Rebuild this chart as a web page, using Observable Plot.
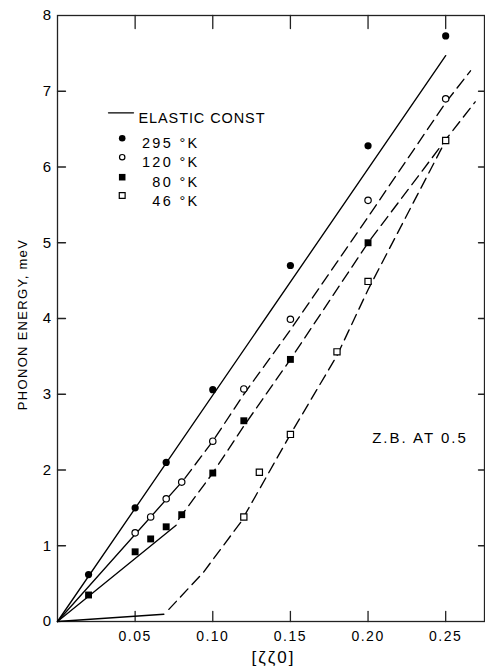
<!DOCTYPE html>
<html><head><meta charset="utf-8">
<script src="https://cdn.jsdelivr.net/npm/d3@7"></script>
<script src="https://cdn.jsdelivr.net/npm/@observablehq/plot@0.6"></script>
<style>
body{margin:0;background:#fff;}
svg text{letter-spacing:1.5px;}
</style></head><body><div id="chart"></div>
<script>
// measured points
const q295 = [0.02, 0.05, 0.07, 0.10, 0.15, 0.20, 0.25];
const e295 = [0.62, 1.50, 2.10, 3.06, 4.70, 6.28, 7.73];
const q120 = [0.05, 0.06, 0.07, 0.08, 0.10, 0.12, 0.15, 0.20, 0.25];
const e120 = [1.17, 1.38, 1.62, 1.84, 2.38, 3.07, 3.99, 5.56, 6.90];
const q80 = [0.02, 0.05, 0.06, 0.07, 0.08, 0.10, 0.12, 0.15, 0.20];
const e80 = [0.35, 0.92, 1.09, 1.25, 1.41, 1.96, 2.65, 3.46, 5.00];
const q46 = [0.12, 0.13, 0.15, 0.18, 0.20, 0.25];
const e46 = [1.38, 1.97, 2.47, 3.56, 4.49, 6.35];

// elastic constant (solid) lines
const qEl295 = [0, 0.25];    const eEl295 = [0, 7.47];
const qEl120 = [0, 0.08];    const eEl120 = [0, 1.84];
const qEl80  = [0, 0.0764];  const eEl80  = [0, 1.27];
const qEl46  = [0, 0.0685];  const eEl46  = [0, 0.096];

// dashed curves
const qD120 = [0.082, 0.10, 0.12, 0.15, 0.20, 0.25, 0.266];
const eD120 = [1.89, 2.38, 3.00, 3.85, 5.34, 6.85, 7.27];
const qD80  = [0.078, 0.10, 0.12, 0.15, 0.20, 0.25, 0.269];
const eD80  = [1.35, 1.96, 2.58, 3.46, 5.00, 6.36, 6.86];
const qD46  = [0.0717, 0.094, 0.118, 0.15, 0.18, 0.20, 0.25];
const eD46  = [0.16, 0.65, 1.31, 2.47, 3.51, 4.38, 6.35];

const xTicks = [0.05, 0.10, 0.15, 0.20, 0.25];
const yTicks = [1, 2, 3, 4, 5, 6, 7];
const yLabels = [0, 1, 2, 3, 4, 5, 6, 7, 8];

const legendNames = ["295 °K", "120 °K", "80 °K", "46 °K"];
const legendLine = "ELASTIC CONST";
const xTitle = "[ζζ0]";
const yTitle = "PHONON ENERGY, meV";
const note = "Z.B. AT 0.5";

const pts = (q, e) => q.map((v, i) => ({q: v, e: e[i]}));
const tick = {draw(ctx, l) { ctx.moveTo(0, 0); ctx.lineTo(0, -l); }};
const solid = {x: "q", y: "e", stroke: "black", strokeWidth: 1.35};
const dashed = {...solid, strokeDasharray: "11,6"};
const rowY = [122.7, 141.7, 161.7, 180];
const legendSymbols = [
  {symbol: "circle", fill: "black", r: 3.3},
  {symbol: "circle", fill: "white", stroke: "black", strokeWidth: 1.2, r: 2.7},
  {symbol: "square", fill: "black", r: 3.7},
  {symbol: "square", fill: "white", stroke: "black", strokeWidth: 1.2, r: 3.3}
];

const chart = Plot.plot({
  width: 485, height: 667,
  marginLeft: 57, marginRight: 1, marginTop: 15, marginBottom: 46,
  x: {domain: [0, 0.275]},
  y: {domain: [0, 8]},
  style: {fontFamily: "'Liberation Sans', Arial, sans-serif", background: "white", color: "black"},
  marks: [
    Plot.frame({stroke: "#222", strokeWidth: 1.3}),
    Plot.vector(xTicks, {x: d => d, y: () => 0, length: 10, rotate: 0, anchor: "start", shape: tick, stroke: "#222", strokeWidth: 1.3}),
    Plot.vector(xTicks, {x: d => d, y: () => 8, length: 13, rotate: 180, anchor: "start", shape: tick, stroke: "#222", strokeWidth: 1.3}),
    Plot.vector(yTicks, {x: () => 0, y: d => d, length: 8, rotate: 90, anchor: "start", shape: tick, stroke: "#222", strokeWidth: 1.3}),
    Plot.vector(yTicks, {x: () => 0.275, y: d => d, length: 6, rotate: 270, anchor: "start", shape: tick, stroke: "#222", strokeWidth: 1.3}),
    Plot.axisX(xTicks, {tickSize: 0, tickPadding: 10, tickFormat: d3.format(".2f"), fontSize: 14, label: null}),
    Plot.axisY(yLabels, {tickSize: 0, tickPadding: 5, tickFormat: d3.format("d"), fontSize: 15, label: null}),
    Plot.line(pts(qEl295, eEl295), solid),
    Plot.line(pts(qEl120, eEl120), solid),
    Plot.line(pts(qEl80, eEl80), solid),
    Plot.line(pts(qEl46, eEl46), solid),
    Plot.line(pts(qD120, eD120), dashed),
    Plot.line(pts(qD80, eD80), dashed),
    Plot.line(pts(qD46, eD46), dashed),
    Plot.dot(pts(q295, e295), {x: "q", y: "e", symbol: "circle", fill: "black", r: 3.6}),
    Plot.dot(pts(q120, e120), {x: "q", y: "e", symbol: "circle", fill: "white", stroke: "black", strokeWidth: 1.2, r: 3.2}),
    Plot.dot(pts(q80, e80), {x: "q", y: "e", symbol: "square", fill: "black", r: 3.9}),
    Plot.dot(pts(q46, e46), {x: "q", y: "e", symbol: "square", fill: "white", stroke: "black", strokeWidth: 1.2, r: 3.5}),
    // legend
    Plot.vector([legendLine], {frameAnchor: "top-left", dx: 51, dy: 97.3, length: 25, rotate: 90, anchor: "start", shape: tick, stroke: "black", strokeWidth: 1.3}),
    Plot.text([legendLine], {frameAnchor: "top-left", dx: 81, dy: 97.3, textAnchor: "start", fontSize: 14.5}),
    ...legendNames.map((name, i) => Plot.dot([name], {frameAnchor: "top-left", dx: 64.7, dy: rowY[i], ...legendSymbols[i]})),
    ...legendNames.map((name, i) => Plot.text([name], {frameAnchor: "top-left", dx: 142, dy: rowY[i], textAnchor: "end", fontSize: 14.5})),
    Plot.text([note], {frameAnchor: "top-left", dx: 314.7, dy: 416.7, textAnchor: "start", fontSize: 15}),
    Plot.text([xTitle], {frameAnchor: "bottom", dx: 2.5, dy: 36, lineAnchor: "middle", fontSize: 17}),
    Plot.text([yTitle], {frameAnchor: "left", dx: -35, dy: 6, rotate: -90, textAnchor: "middle", fontSize: 13})
  ]
});
// per-text letter spacing to match the lettering widths of the original
const spacing = new Map([[legendLine, "0.9px"], [note, "2px"], [yTitle, "1.3px"], [xTitle, "2px"]]);
legendNames.forEach(n => spacing.set(n, "2.3px"));
d3.select(chart).selectAll("text").each(function() {
  const s = spacing.get(this.textContent);
  if (s) this.style.letterSpacing = s;
});
document.getElementById("chart").append(chart);
</script></body></html>
